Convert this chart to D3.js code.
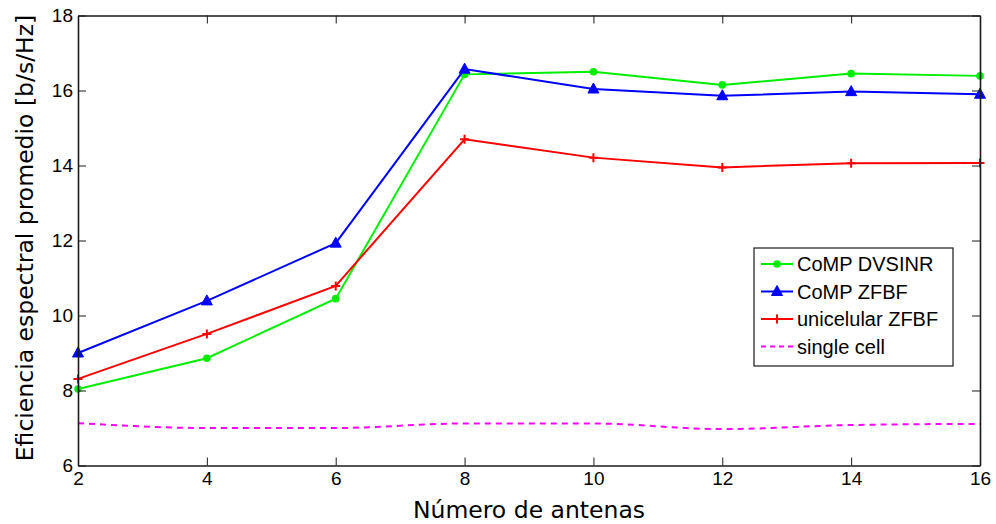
<!DOCTYPE html>
<html>
<head>
<meta charset="utf-8">
<script src="https://cdn.jsdelivr.net/npm/d3@7"></script>
<style>
  body { margin: 0; background: #fff; }
  svg { display: block; font-family: "Liberation Sans", Arial, sans-serif; }
</style>
</head>
<body>
<div id="chart"></div>
<script>
const antenas = [2, 4, 6, 8, 10, 12, 14, 16];
const compDvsinr = [8.04, 8.86, 10.45, 16.43, 16.5, 16.15, 16.45, 16.39];
const compZfbf = [9.0, 10.39, 11.93, 16.57, 16.04, 15.86, 15.97, 15.9];
const uniZfbf = [8.31, 9.51, 10.79, 14.7, 14.21, 13.95, 14.06, 14.07];
const singleCell = [7.13, 7.0, 7.0, 7.12, 7.12, 6.97, 7.08, 7.11];
const xTicks = [2, 4, 6, 8, 10, 12, 14, 16];
const yTicks = [6, 8, 10, 12, 14, 16, 18];

const series = [
  { name: 'CoMP DVSINR', values: compDvsinr, color: '#00ee00', marker: 'circle' },
  { name: 'CoMP ZFBF', values: compZfbf, color: '#0000ff', marker: 'triangle' },
  { name: 'unicelular ZFBF', values: uniZfbf, color: '#ff0000', marker: 'plus' },
  { name: 'single cell', values: singleCell, color: '#ff00ff', marker: 'none', dash: '6,5' }
];

const width = 996, height = 524;
const margin = { left: 78, right: 16, top: 15.5, bottom: 58.5 };
const innerW = width - margin.left - margin.right;
const innerH = height - margin.top - margin.bottom;

const svg = d3.select('#chart').append('svg')
  .attr('width', width)
  .attr('height', height);

const g = svg.append('g')
  .attr('transform', `translate(${margin.left},${margin.top})`);

const x = d3.scaleLinear().domain([2, 16]).range([0, innerW]);
const y = d3.scaleLinear().domain([6, 18]).range([innerH, 0]);

function drawMarker(sel, cx, cy, s) {
  if (s.marker === 'circle') {
    sel.append('circle').attr('cx', cx).attr('cy', cy).attr('r', 3.8).attr('fill', s.color);
  } else if (s.marker === 'triangle') {
    sel.append('path')
      .attr('d', `M${cx},${cy - 6}L${cx + 5.5},${cy + 4}L${cx - 5.5},${cy + 4}Z`)
      .attr('fill', s.color).attr('stroke', s.color).attr('stroke-width', 1);
  } else if (s.marker === 'plus') {
    sel.append('path')
      .attr('d', `M${cx - 4.5},${cy}H${cx + 4.5}M${cx},${cy - 4.5}V${cy + 4.5}`)
      .attr('stroke', s.color).attr('stroke-width', 2);
  }
}

// series lines
series.forEach(s => {
  const pts = antenas.map((a, i) => ({ a, v: s.values[i] }));
  const line = d3.line()
    .x(d => x(d.a))
    .y(d => y(d.v))
    .curve(s.marker === 'none' ? d3.curveMonotoneX : d3.curveLinear);

  g.append('path')
    .datum(pts)
    .attr('fill', 'none')
    .attr('stroke', s.color)
    .attr('stroke-width', 2)
    .attr('stroke-dasharray', s.dash || null)
    .attr('d', line);

  pts.forEach(d => drawMarker(g, x(d.a), y(d.v), s));
});

// axes box with inward ticks (matlab style)
const tickLen = 8;
const axisColor = '#1a1a1a';

const axBottom = g.append('g').attr('transform', `translate(0,${innerH})`)
  .call(d3.axisBottom(x).tickValues(xTicks).tickSizeInner(-tickLen).tickSizeOuter(0).tickPadding(6));
const axTop = g.append('g')
  .call(d3.axisTop(x).tickValues(xTicks).tickSizeInner(-tickLen).tickSizeOuter(0).tickFormat(''));
const axLeft = g.append('g')
  .call(d3.axisLeft(y).tickValues(yTicks).tickSizeInner(-tickLen).tickSizeOuter(0).tickPadding(5));
const axRight = g.append('g').attr('transform', `translate(${innerW},0)`)
  .call(d3.axisRight(y).tickValues(yTicks).tickSizeInner(-tickLen).tickSizeOuter(0).tickFormat(''));

[axBottom, axTop, axLeft, axRight].forEach(a => {
  a.select('.domain').attr('stroke', axisColor).attr('stroke-width', 1.6);
  a.selectAll('.tick line').attr('stroke', axisColor).attr('stroke-width', 1);
  a.selectAll('.tick text')
    .attr('fill', '#000')
    .style('font-size', '19px')
    .style('font-family', '"Liberation Sans", Arial, sans-serif');
});

// axis labels
svg.append('text')
  .attr('x', margin.left + innerW / 2 + 0)
  .attr('y', 518)
  .attr('text-anchor', 'middle')
  .style('font-family', '"DejaVu Sans", sans-serif')
  .style('font-size', '23.5px')
  .text('Número de antenas');

svg.append('text')
  .attr('transform', `translate(33,238) rotate(-90)`)
  .attr('text-anchor', 'middle')
  .style('font-family', '"DejaVu Sans", sans-serif')
  .style('font-size', '23.5px')
  .text('Eficiencia espectral promedio [b/s/Hz]');

// legend
const legend = svg.append('g').attr('transform', 'translate(754,248)');
legend.append('rect')
  .attr('width', 199).attr('height', 118)
  .attr('fill', '#fff').attr('stroke', axisColor).attr('stroke-width', 1.2);

series.forEach((s, i) => {
  const ly = 16 + i * 27.5;
  legend.append('line')
    .attr('x1', 7).attr('x2', 39).attr('y1', ly).attr('y2', ly)
    .attr('stroke', s.color).attr('stroke-width', 2)
    .attr('stroke-dasharray', s.dash ? '5,4' : null);
  drawMarker(legend, 23, ly, s);
  legend.append('text')
    .attr('x', 43).attr('y', ly + 7)
    .style('font-size', '20px')
    .text(s.name);
});
</script>
</body>
</html>
